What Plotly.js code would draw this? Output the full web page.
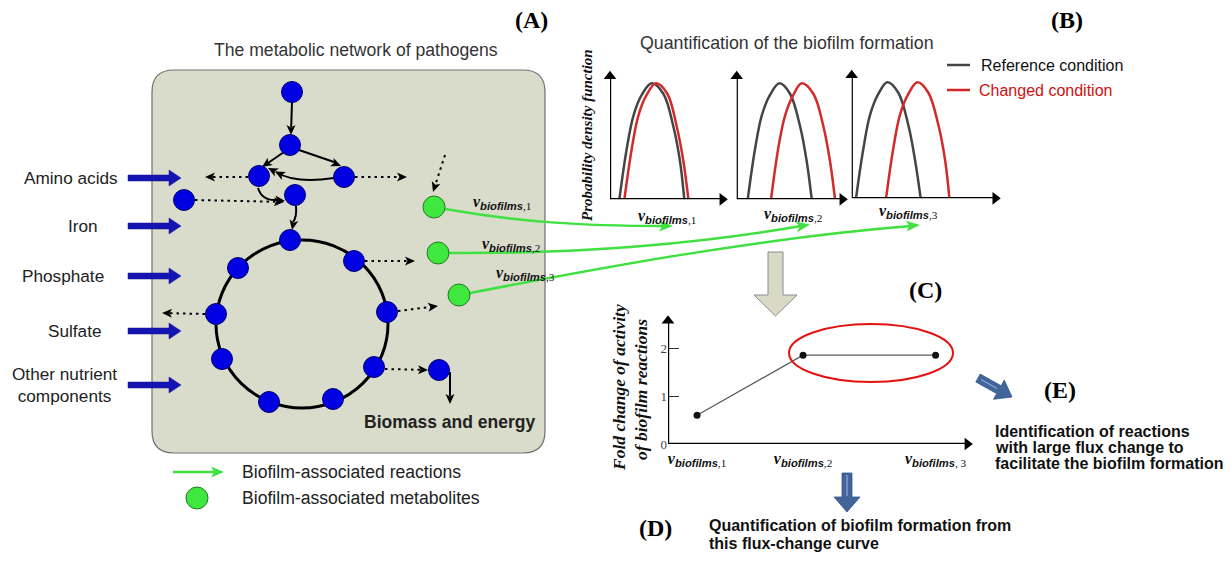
<!DOCTYPE html>
<html><head><meta charset="utf-8">
<script src="https://cdn.plot.ly/plotly-3.0.1.min.js"></script>
<style>html,body{margin:0;padding:0;background:#fff}#chart{width:1232px;height:564px}</style>
</head><body><div id="chart"></div>
<script>
// ================= DATA =================
// Panel A: nutrient inputs
const nutrientNames = ['Amino acids', 'Iron', 'Phosphate', 'Sulfate', 'Other nutrient<br>components'];
const nutrientY = [178, 226, 276, 331, 385];
const nutrientLabelX = [71, 83, 63, 75, 64];
// Panel A: metabolites (network nodes)
const metaboliteX = [292, 290, 259, 344, 184, 295, 290, 354, 238, 387, 216, 374, 222, 333, 269, 439];
const metaboliteY = [92, 145, 176, 177, 200, 195, 240, 261, 268, 312, 314, 367, 359, 399, 402, 370];
const biofilmMetaboliteX = [434, 438, 459];
const biofilmMetaboliteY = [207, 253, 295];
const biofilmReactions = ['biofilms,1', 'biofilms,2', 'biofilms,3'];

// Panel B: probability density functions (reference vs changed)
const pdfY = [0, 0.43, 0.72, 0.9, 1.0, 0.91, 0.63, 0.33, 0];
const pdfRef1X = [0.80, 1.42, 2.00, 2.71, 3.56, 4.56, 5.41, 5.98, 6.35];
const pdfChg1X = [1.23, 1.85, 2.42, 3.13, 3.93, 4.90, 5.70, 6.27, 6.70];
const pdfRef2X = [1.00, 1.66, 2.27, 3.03, 3.88, 4.85, 5.76, 6.36, 6.82];
const pdfChg2X = [3.12, 3.76, 4.39, 5.15, 5.91, 6.97, 7.88, 8.48, 8.94];
const pdfRef3X = [0.29, 0.79, 1.24, 1.80, 2.41, 3.15, 3.83, 4.28, 4.66];
const pdfChg3X = [2.32, 2.81, 3.26, 3.83, 4.44, 5.18, 5.86, 6.31, 6.60];
const pdfLegend = ['Reference condition', 'Changed condition'];

// Panel C: fold change of activity of biofilm reactions
const fluxLabels = ['biofilms,1', 'biofilms,2', 'biofilms, 3'];
const fluxPos = [1, 2, 3.25];
const foldChange = [0.6, 1.85, 1.85];
const foldTicks = [0, 1, 2];

// ================= HELPERS =================
const W = 1232, H = 564;
const SANS = 'Liberation Sans, Arial, sans-serif';
const SERIF = 'Liberation Serif, Times New Roman, serif';
const fx = p => p / W, fy = p => 1 - p / H;

function vLabel(s) {
  const i = s.indexOf(',');
  const word = s.slice(0, i), rest = s.slice(i);
  return '<b><i>v</i></b><sub><span style="font-family:Liberation Sans"><b><i>' + word + '</i></b></span>' + rest + '</sub>';
}
function headPath(tx, ty, ux, uy, len, wid, notch) {
  const L = Math.hypot(ux, uy); ux /= L; uy /= L;
  const nx = -uy, ny = ux;
  const bx = tx - ux * len, by = ty - uy * len;
  const mx = tx - ux * len * (1 - notch), my = ty - uy * len * (1 - notch);
  return 'M' + tx + ',' + ty + ' L' + (bx + nx * wid / 2) + ',' + (by + ny * wid / 2) +
    ' L' + mx + ',' + my + ' L' + (bx - nx * wid / 2) + ',' + (by - ny * wid / 2) + ' Z';
}
function blockPath(x0, y0, x1, y1, sw, hw, hl) {
  let ux = x1 - x0, uy = y1 - y0; const L = Math.hypot(ux, uy); ux /= L; uy /= L;
  const nx = -uy, ny = ux;
  const sx = x0 + ux * (L - hl), sy = y0 + uy * (L - hl);
  const P = [
    [x0 + nx * sw / 2, y0 + ny * sw / 2], [sx + nx * sw / 2, sy + ny * sw / 2], [sx + nx * hw / 2, sy + ny * hw / 2],
    [x1, y1], [sx - nx * hw / 2, sy - ny * hw / 2], [sx - nx * sw / 2, sy - ny * sw / 2], [x0 - nx * sw / 2, y0 - ny * sw / 2]];
  return 'M' + P.map(p => p[0] + ',' + p[1]).join(' L') + ' Z';
}

const shapes = [];
const annotations = [];
function pathShape(path, opts) {
  shapes.push(Object.assign({type: 'path', xref: 'x', yref: 'y', path: path, layer: 'below'}, opts));
}
function head(tx, ty, ux, uy, color, len, wid, layer) {
  pathShape(headPath(tx, ty, ux, uy, len || 10, wid || 9, 0.25),
    {fillcolor: color || '#000', line: {width: 0}, layer: layer || 'below'});
}
function text(x, y, t, font, extra) {
  annotations.push(Object.assign({xref: 'x', yref: 'y', x: x, y: y, text: t, showarrow: false,
    font: font, xanchor: 'center', yanchor: 'middle'}, extra || {}));
}

// ---- Panel A container ----
pathShape('M174,70 L523,70 Q545,70 545,92 L545,431 Q545,453 523,453 L174,453 Q152,453 152,431 L152,92 Q152,70 174,70 Z',
  {fillcolor: '#dadccb', line: {color: '#6e6e6e', width: 1.2}});
// central cycle
shapes.push({type: 'circle', xref: 'x', yref: 'y', x0: 216, x1: 388, y0: 240, y1: 408, layer: 'below',
  line: {color: '#000', width: 3}});

// nutrient block arrows
nutrientY.forEach(y => pathShape(blockPath(128, y, 181, y, 6, 16, 12),
  {fillcolor: '#1414b2', line: {color: '#10108f', width: 0.5}}));

// solid reaction arrows
const solid = [
  ['M292,102 L291.2,127', 291, 135, 0, 1],
  ['M284,152 L268,163', 262, 167, -22, 15],
  ['M299,150 L334,162', 341, 166, 40, 17],
  ['M334,178 Q295,184 276,172', 268, 168, -27, -14],
  ['M258,188 Q262,201 277,200', 285, 201, 1, 0.1],
  ['M296,206 Q297,217 293,222', 292, 230, -1, 5],
  ['M450,372 L450,396', 450, 404, 0, 1]
];
solid.forEach(s => {
  pathShape(s[0], {line: {color: '#000', width: 2}});
  head(s[1], s[2], s[3], s[4]);
});
head(275, 171.5, -27, -14); // double chevron

// dotted reaction arrows
const dotted = [
  [248, 177, 205, 177], [355, 177, 407, 177], [195, 200, 284, 202], [445, 155, 433, 192],
  [365, 261, 415, 261], [398, 311, 438, 306], [205, 314, 162, 313], [385, 369, 428, 370]
];
dotted.forEach(d => {
  const ux = d[2] - d[0], uy = d[3] - d[1], L = Math.hypot(ux, uy);
  shapes.push({type: 'line', xref: 'x', yref: 'y', layer: 'below', x0: d[0], y0: d[1],
    x1: d[2] - ux / L * 7, y1: d[3] - uy / L * 7, line: {color: '#000', width: 2, dash: '2.5px,4px'}});
  head(d[2], d[3], ux, uy);
});

// green biofilm reaction curves
const GREEN = '#3fe03f';
const greens = [
  ['M445,209 C520,222 580,226 664,226', 673, 226, 1, 0],
  ['M449,253 C600,254 720,240 801,226', 810, 224.5, 80, -14],
  ['M470,293 C600,268 760,238 911,226', 920, 225, 150, -12]
];
greens.forEach(g => {
  pathShape(g[0], {line: {color: GREEN, width: 2.5}});
  head(g[1], g[2], g[3], g[4], GREEN, 14, 11);
});
// legend arrow
shapes.push({type: 'line', xref: 'x', yref: 'y', layer: 'below', x0: 173, y0: 472, x1: 215, y1: 472,
  line: {color: GREEN, width: 2.5}});
head(224, 472, 1, 0, GREEN, 13, 11);

// ---- Panel B/C/D/E decoration ----
// grey block arrow B -> C
pathShape(blockPath(775.5, 252, 775.5, 316, 15, 43, 21), {fillcolor: '#d8dac6', line: {color: '#8c8c8c', width: 1}, layer: 'above'});
// blue arrow C -> D
pathShape(blockPath(847, 473, 847, 512, 10, 26, 15), {fillcolor: '#41659b', line: {color: '#34578a', width: 0.8}, layer: 'above'});
shapes.push({type: 'line', xref: 'x', yref: 'y', x0: 847, y0: 475, x1: 847, y1: 496, line: {color: '#86a6d6', width: 1.3}});
// blue arrow C -> E
pathShape(blockPath(978, 378, 1012, 397, 9, 22, 15), {fillcolor: '#41659b', line: {color: '#34578a', width: 0.8}, layer: 'above'});
shapes.push({type: 'line', xref: 'x', yref: 'y', x0: 981, y0: 379.5, x1: 997, y1: 388.5, line: {color: '#86a6d6', width: 1.3}});
// red highlight ellipse
shapes.push({type: 'circle', xref: 'x', yref: 'y', x0: 789, x1: 953, y0: 324, y1: 382, line: {color: '#e41010', width: 2}});
// legend lines of B
shapes.push({type: 'line', xref: 'x', yref: 'y', x0: 947, x1: 970, y0: 65, y1: 65, line: {color: '#444', width: 2.5}});
shapes.push({type: 'line', xref: 'x', yref: 'y', x0: 947, x1: 970, y0: 90, y1: 90, line: {color: '#d42525', width: 2.5}});

// axes with arrowheads, in each sub-plot's own data coordinates
const axisTraces = [];
function axes(xr, yr, x0, x1, y1, lw) {
  shapes.push({type: 'line', xref: xr, yref: yr, x0: x0, x1: x0, y0: 0, y1: y1, line: {color: '#000', width: lw}});
  shapes.push({type: 'line', xref: xr, yref: yr, x0: x0, x1: x1, y0: 0, y1: 0, line: {color: '#000', width: lw}});
  axisTraces.push({type: 'scatter', mode: 'markers', x: [x0, x1], y: [y1, 0], xaxis: xr, yaxis: yr.replace('y', 'y'),
    hoverinfo: 'skip', cliponaxis: false,
    marker: {symbol: ['triangle-up', 'triangle-right'], size: 11, color: '#000', line: {width: 0}}});
}
axes('x2', 'y2', 0, 9.6, 1.06, 2.4);
axes('x3', 'y3', 0, 9.6, 1.06, 2.4);
axes('x4', 'y4', 0, 9.7, 1.06, 2.4);
axes('x5', 'y5', 0.726, 3.55, 2.57, 2.4);

// ---- texts ----
const LBL = {family: SERIF, size: 24, color: '#000'};
text(531, 20, '<b>(A)</b>', LBL);
text(1067, 20, '<b>(B)</b>', LBL);
text(925, 290, '<b>(C)</b>', LBL);
text(655, 528, '<b>(D)</b>', LBL);
text(1060, 390, '<b>(E)</b>', LBL);

text(356, 50, 'The metabolic network of pathogens', {family: SANS, size: 17.6, color: '#333'});
text(787, 43, 'Quantification of the biofilm formation', {family: SANS, size: 17.8, color: '#333'});
nutrientNames.forEach((n, i) => text(nutrientLabelX[i], nutrientY[i], n,
  {family: SANS, size: 17.2, color: '#222'}));
text(537, 422, '<b>Biomass and energy</b>', {family: SANS, size: 17.5, color: '#222'}, {xanchor: 'right'});
text(240, 472, 'Biofilm-associated reactions', {family: SANS, size: 17.6, color: '#222'}, {xanchor: 'left'});
text(240, 498, 'Biofilm-associated metabolites', {family: SANS, size: 17.6, color: '#222'}, {xanchor: 'left'});
text(979, 65, pdfLegend[0], {family: SANS, size: 16, color: '#111'}, {xanchor: 'left'});
text(977, 90, pdfLegend[1], {family: SANS, size: 16, color: '#cc1111'}, {xanchor: 'left'});

const VF = {family: SERIF, size: 16, color: '#111'};
const vNodeX = [502, 511, 525], vNodeY = [202, 244, 273];
biofilmReactions.forEach((r, i) => text(vNodeX[i], vNodeY[i], vLabel(r), VF));
const vPdfX = [667, 793, 908], vPdfY = [216, 214, 211];
biofilmReactions.forEach((r, i) => text(vPdfX[i], vPdfY[i], vLabel(r), VF));

text(587, 135, '<b><i>Probability density function</i></b>', {family: SERIF, size: 15, color: '#111'}, {textangle: -90});
text(619, 388, '<b><i>Fold change of activity</i></b>', {family: SERIF, size: 17.5, color: '#111'}, {textangle: -90});
text(641, 390, '<b><i>of biofilm reactions</i></b>', {family: SERIF, size: 17.5, color: '#111'}, {textangle: -90});

const BF = {family: SANS, size: 16, color: '#111'};
text(707, 525, '<b>Quantification of biofilm formation from</b>', BF, {xanchor: 'left'});
text(707, 543, '<b>this flux-change curve</b>', BF, {xanchor: 'left'});
text(993, 431, '<b>Identification of reactions</b>', BF, {xanchor: 'left'});
text(993, 447, '<b>with large flux change to</b>', BF, {xanchor: 'left'});
text(993, 463, '<b>facilitate the biofilm formation</b>', BF, {xanchor: 'left'});

// ================= TRACES =================
const REF = '#454545', CHG = '#d42a2a';
const pdfLine = (x, c, xa, ya) => ({type: 'scatter', mode: 'lines', x: x, y: pdfY, xaxis: xa, yaxis: ya,
  line: {color: c, width: 2.5, shape: 'spline', smoothing: 1}, hoverinfo: 'skip'});

const traces = [
  {type: 'scatter', mode: 'markers', x: metaboliteX, y: metaboliteY, hoverinfo: 'skip',
    marker: {size: 21, color: '#0000e2', line: {color: '#00006e', width: 1}}},
  {type: 'scatter', mode: 'markers', x: biofilmMetaboliteX.concat([197]), y: biofilmMetaboliteY.concat([498]), hoverinfo: 'skip',
    marker: {size: 22, color: '#3ee83e', line: {color: '#237a23', width: 1}}},
  pdfLine(pdfRef1X, REF, 'x2', 'y2'), pdfLine(pdfChg1X, CHG, 'x2', 'y2'),
  pdfLine(pdfRef2X, REF, 'x3', 'y3'), pdfLine(pdfChg2X, CHG, 'x3', 'y3'),
  pdfLine(pdfRef3X, REF, 'x4', 'y4'), pdfLine(pdfChg3X, CHG, 'x4', 'y4'),
  {type: 'scatter', mode: 'lines+markers', x: fluxPos, y: foldChange, xaxis: 'x5', yaxis: 'y5', hoverinfo: 'skip',
    line: {color: '#5a5a5a', width: 1.3}, marker: {size: 7, color: '#111'}}
].concat(axisTraces);

const hidden = {visible: false, fixedrange: true};
const layout = {
  width: W, height: H, margin: {l: 0, r: 0, t: 0, b: 0, pad: 0},
  paper_bgcolor: '#fff', plot_bgcolor: 'rgba(0,0,0,0)', showlegend: false, hovermode: false,
  xaxis: Object.assign({range: [0, W], domain: [0, 1]}, hidden),
  yaxis: Object.assign({range: [H, 0], domain: [0, 1]}, hidden),
  xaxis2: Object.assign({range: [0, 10], domain: [fx(610), fx(727)], anchor: 'y2'}, hidden),
  yaxis2: Object.assign({range: [0, 1.1], domain: [fy(199.3), fy(71.7)], anchor: 'x2'}, hidden),
  xaxis3: Object.assign({range: [0, 10], domain: [fx(736.7), fx(846.7)], anchor: 'y3'}, hidden),
  yaxis3: Object.assign({range: [0, 1.1], domain: [fy(199.3), fy(71.7)], anchor: 'x3'}, hidden),
  xaxis4: Object.assign({range: [0, 10], domain: [fx(851.7), fx(999.7)], anchor: 'y4'}, hidden),
  yaxis4: Object.assign({range: [0, 1.1], domain: [fy(198.3), fy(70.7)], anchor: 'x4'}, hidden),
  xaxis5: {range: [0.726, 3.603], domain: [fx(668), fx(973)], anchor: 'y5', fixedrange: true,
    showgrid: false, zeroline: false, showline: false, ticks: '', tickvals: fluxPos,
    ticktext: fluxLabels.map(vLabel), tickfont: {family: SERIF, size: 16, color: '#111'}, ticklabelstandoff: 3},
  yaxis5: {range: [0, 2.65], domain: [fy(444), fy(444 - 2.65 * 48)], anchor: 'x5', fixedrange: true,
    showgrid: false, zeroline: false, showline: false, tickvals: foldTicks, ticks: 'inside', ticklen: 11,
    tickwidth: 1, tickcolor: '#333', tickfont: {family: SERIF, size: 13, color: '#444'}},
  shapes: shapes, annotations: annotations
};
Plotly.newPlot('chart', traces, layout, {staticPlot: true, displayModeBar: false});
</script></body></html>
